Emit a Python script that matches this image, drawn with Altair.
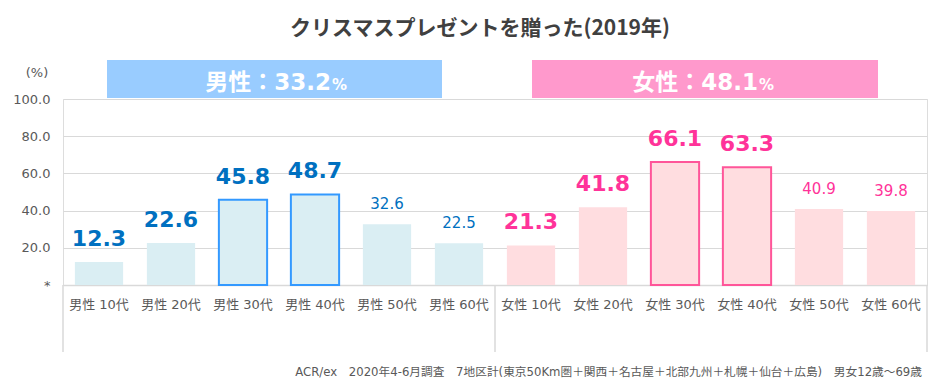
import altair as alt
import pandas as pd

# ---- data ----
categories = ["男性 10代", "男性 20代", "男性 30代", "男性 40代", "男性 50代", "男性 60代",
              "女性 10代", "女性 20代", "女性 30代", "女性 40代", "女性 50代", "女性 60代"]
values = [12.3, 22.6, 45.8, 48.7, 32.6, 22.5,
          21.3, 41.8, 66.1, 63.3, 40.9, 39.8]
genders = ["男性"] * 6 + ["女性"] * 6
highlighted = ["男性 30代", "男性 40代", "女性 30代", "女性 40代"]
bold_labels = ["男性 10代", "男性 20代", "男性 30代", "男性 40代",
               "女性 10代", "女性 20代", "女性 30代", "女性 40代"]
summary_genders = ["男性", "女性"]
summary_values = [33.2, 48.1]
y_ticks = [0, 20, 40, 60, 80, 100]
title_text = "クリスマスプレゼントを贈った(2019年)"
footer_text = "ACR/ex　2020年4-6月調査　7地区計(東京50Km圏＋関西＋名古屋＋北部九州＋札幌＋仙台＋広島)　男女12歳～69歳"

FONT = "DejaVu Sans, Noto Sans CJK JP"
CJK = "Noto Sans CJK JP"
W, H = 864, 186

df = pd.DataFrame({"cat": categories, "value": values, "gender": genders})
df["hl"] = df["cat"].isin(highlighted)
df["big"] = df["cat"].isin(bold_labels)
df["label"] = df["value"].map(lambda v: f"{v:.1f}")

is_male = alt.datum.gender == "男性"

x_enc = alt.X("cat:N", sort=categories, title=None,
              scale=alt.Scale(paddingInner=0.33, paddingOuter=0.165),
              axis=alt.Axis(labelAngle=0, labelFontSize=13, labelColor="#595959", labelFont=FONT,
                            labelPadding=13, ticks=False, domainColor="#D9D9D9", domainWidth=1.5,
                            labelOverlap=False))
y_enc = alt.Y("value:Q", title=None,
              scale=alt.Scale(domain=[0, 100], nice=False),
              axis=alt.Axis(values=y_ticks, labelExpr="datum.value == 0 ? '*' : format(datum.value, '.1f')",
                            labelFontSize=13, labelColor="#595959", labelFont=FONT, labelPadding=13,
                            labelOverlap=False, labelBound=False, labelFlush=False,
                            ticks=False, domain=False, gridColor="#D9D9D9", gridWidth=1.2))

base = alt.Chart(df)

bars = base.transform_calculate(
    strokecol="datum.hl ? (datum.gender == '男性' ? '#3399FF' : '#FF5599') : 'transparent'"
).mark_bar(strokeWidth=2).encode(
    x=x_enc, y=y_enc,
    fill=alt.condition(is_male, alt.value("#DAEEF3"), alt.value("#FFDDE0")),
    stroke=alt.Stroke("strokecol:N", scale=None),
)

big_labels = base.transform_filter(alt.datum.big).mark_text(
    font=FONT, fontSize=22, fontWeight="bold", baseline="bottom", dy=-11
).encode(
    x=x_enc, y=y_enc, text="label:N",
    color=alt.condition(is_male, alt.value("#0070C0"), alt.value("#FF3399")),
)

small_labels = base.transform_filter(~alt.datum.big).mark_text(
    font=FONT, fontSize=15, baseline="bottom", dy=-12
).encode(
    x=x_enc, y=y_enc, text="label:N",
    color=alt.condition(is_male, alt.value("#0070C0"), alt.value("#FF3399")),
)

# separator lines in the category label area
one = pd.DataFrame({"k": [0]})
separators = [
    alt.Chart(one).mark_rule(color="#D9D9D9", strokeWidth=1.5).encode(
        x=alt.value(px), y=alt.value(H), y2=alt.value(H + 67))
    for px in (0, W / 2, W)
]

# summary banners
sum_df = pd.DataFrame({"gender": summary_genders, "value": summary_values})
sum_df["main"] = sum_df.apply(lambda r: f"{r['gender']}：{r['value']:.1f}", axis=1)
banner_x = {"男性": (44, 379, 268), "女性": (469, 815, 695)}
sum_df["x1"] = sum_df["gender"].map(lambda g: banner_x[g][0])
sum_df["x2"] = sum_df["gender"].map(lambda g: banner_x[g][1])
sum_df["xt"] = sum_df["gender"].map(lambda g: banner_x[g][2])

banners = alt.Chart(sum_df).mark_rect().encode(
    x=alt.X("x1:Q", scale=None), x2="x2:Q",
    y=alt.value(-39), y2=alt.value(-1),
    fill=alt.condition(is_male, alt.value("#99CCFF"), alt.value("#FF99CC")),
)
banner_main = alt.Chart(sum_df).mark_text(
    font=FONT, fontSize=23, fontWeight="bold", color="white", align="right", baseline="alphabetic"
).encode(x=alt.X("xt:Q", scale=None), y=alt.value(-9), text="main:N")
banner_pct = alt.Chart(sum_df).mark_text(
    font=FONT, fontSize=15, fontWeight="bold", color="white", align="left", baseline="alphabetic", dx=1
).encode(x=alt.X("xt:Q", scale=None), y=alt.value(-9), text=alt.value("%"))

pct_unit = alt.Chart(one).mark_text(font=FONT, fontSize=13, color="#595959").encode(
    x=alt.value(-26), y=alt.value(-26), text=alt.value("(%)"))
footer = alt.Chart(one).mark_text(font=FONT, fontSize=11.7, color="#595959", align="right").encode(
    x=alt.value(W - 5), y=alt.value(H + 87), text=alt.value(footer_text))

chart = alt.layer(
    bars, big_labels, small_labels, *separators,
    banners, banner_main, banner_pct, pct_unit, footer
).properties(
    width=W, height=H,
    title=alt.TitleParams(title_text, font=CJK, fontSize=21, fontWeight="bold", color="#404040",
                          anchor="middle", dx=-15, offset=21),
    autosize=alt.AutoSizeParams(type="none"),
    padding={"left": 55, "top": 91, "right": 12, "bottom": 96},
).configure_view(stroke=None).configure(background="white")

chart.save("out.html", embed_options={"renderer": "svg", "actions": False})
